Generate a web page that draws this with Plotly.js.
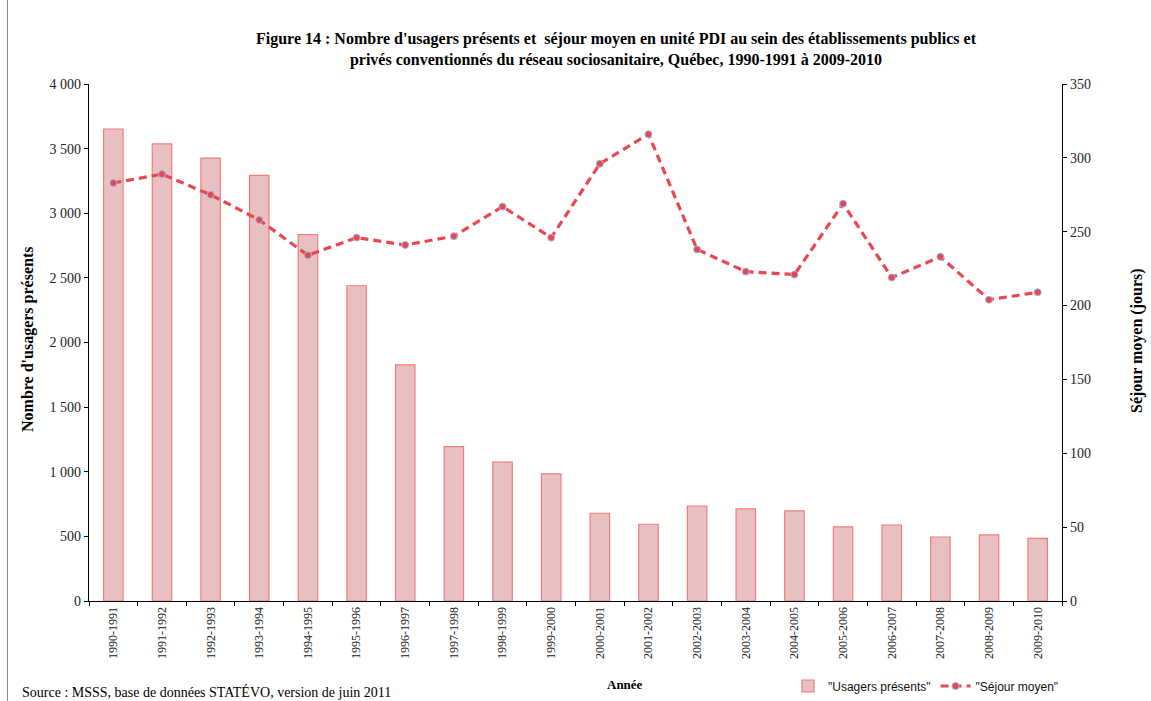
<!DOCTYPE html>
<html>
<head>
<meta charset="utf-8">
<script src="https://cdn.plot.ly/plotly-3.0.1.min.js"></script>
<style>
  html, body { margin: 0; padding: 0; background: #fff; }
  #chart { width: 1151px; height: 701px; position: relative; }
  #frame { position: absolute; left: 7px; top: 0; width: 0; height: 701px; border-left: 1px solid #8a8a8a; z-index: 5; }
</style>
</head>
<body>
<div id="chart"><div id="frame"></div></div>
<script>
const years = ["1990-1991","1991-1992","1992-1993","1993-1994","1994-1995","1995-1996","1996-1997","1997-1998","1998-1999","1999-2000","2000-2001","2001-2002","2002-2003","2003-2004","2004-2005","2005-2006","2006-2007","2007-2008","2008-2009","2009-2010"];
const usagers = [3652, 3536, 3427, 3293, 2834, 2439, 1827, 1194, 1074, 983, 679, 594, 735, 712, 697, 573, 588, 495, 511, 485];
const sejour = [283, 289, 275, 258, 234, 246, 241, 247, 267, 246, 296, 316, 238, 223, 221, 269, 219, 233, 204, 209];
const leftTicks = [0, 500, 1000, 1500, 2000, 2500, 3000, 3500, 4000];
const rightTicks = [0, 50, 100, 150, 200, 250, 300, 350];

const serif = "'Liberation Serif', 'Times New Roman', serif";
const sans = "'Liberation Sans', Arial, sans-serif";

const traces = [
  {
    type: 'bar', x: years, y: usagers, name: '"Usagers présents"',
    marker: { color: 'rgb(232,192,194)', line: { color: 'rgb(240,125,125)', width: 1.2 } },
    yaxis: 'y'
  },
  {
    type: 'scatter', mode: 'lines+markers', x: years, y: sejour, name: '"Séjour moyen"',
    line: { color: 'rgb(234,72,78)', width: 3.2, dash: '8px,5px' },
    marker: { symbol: 'circle', size: 7, color: 'rgb(234,72,78)', line: { color: 'rgb(150,185,235)', width: 1 } },
    yaxis: 'y2'
  }
];

const L = 89, R = 1062, T = 84, B = 601;
const pw = R - L, ph = B - T;
const px = v => (v - L) / pw;
const py = v => (B - v) / ph;

const layout = {
  width: 1151, height: 701,
  margin: { l: L, r: 1151 - R, t: T, b: 701 - B, pad: 0, autoexpand: false },
  paper_bgcolor: '#fff', plot_bgcolor: '#fff',
  separators: ', ',
  bargap: 0.6,
  showlegend: true,
  font: { family: serif, color: '#222' },
  title: {
    text: "Figure 14 : Nombre d'usagers présents et  séjour moyen en unité PDI au sein des établissements publics et<br>privés conventionnés du réseau sociosanitaire, Québec, 1990-1991 à 2009-2010",
    font: { family: serif, size: 16, color: '#000', weight: 'bold' },
    xref: 'container', x: 616 / 1151, xanchor: 'center',
    yref: 'container', y: 1 - 44 / 701, yanchor: 'top'
  },
  xaxis: {
    type: 'category', tickmode: 'array', tickvals: years, ticktext: years, automargin: false,
    tickangle: -90, tickfont: { family: serif, size: 12, color: '#222' },
    ticks: 'outside', ticklen: 4, tickcolor: '#000', tickson: 'boundaries',
    showline: true, linecolor: '#000', linewidth: 1.3, showgrid: false, zeroline: false,
    range: [-0.5, years.length - 0.5]
  },
  yaxis: {
    range: [0, 4000], tickmode: 'array', tickvals: leftTicks, automargin: false,
    separatethousands: true, tickformat: ',d',
    tickfont: { family: serif, size: 14, color: '#222' },
    ticks: 'outside', ticklen: 4, tickcolor: '#000',
    showline: true, linecolor: '#000', linewidth: 1.3, showgrid: false, zeroline: false
  },
  yaxis2: {
    overlaying: 'y', side: 'right', range: [0, 350], tickmode: 'array', tickvals: rightTicks, automargin: false,
    tickfont: { family: serif, size: 14, color: '#222' },
    ticks: 'outside', ticklen: 4, tickcolor: '#000',
    showline: true, linecolor: '#000', linewidth: 1.3, showgrid: false, zeroline: false
  },
  legend: {
    orientation: 'h', xref: 'paper', yref: 'paper',
    x: px(788), xanchor: 'left', y: py(686), yanchor: 'middle',
    font: { family: sans, size: 12, color: '#111' },
    tracegroupgap: 0, bgcolor: 'rgba(0,0,0,0)'
  },
  annotations: [
    { text: "Nombre d'usagers présents", textangle: -90, xref: 'paper', yref: 'paper',
      x: px(28), y: py(340), xanchor: 'center', yanchor: 'middle', showarrow: false,
      font: { family: serif, size: 16, color: '#000', weight: 'bold' } },
    { text: "Séjour moyen (jours)", textangle: -90, xref: 'paper', yref: 'paper',
      x: px(1137), y: py(341), xanchor: 'center', yanchor: 'middle', showarrow: false,
      font: { family: serif, size: 16, color: '#000', weight: 'bold' } },
    { text: "Année", xref: 'paper', yref: 'paper',
      x: px(625), y: py(684), xanchor: 'center', yanchor: 'middle', showarrow: false,
      font: { family: serif, size: 13, color: '#000', weight: 'bold' } },
    { text: "Source : MSSS, base de données STATÉVO, version de juin 2011", xref: 'paper', yref: 'paper',
      x: px(20), y: py(692), xanchor: 'left', yanchor: 'middle', showarrow: false,
      font: { family: serif, size: 14, color: '#000' } }
  ]
};

Plotly.newPlot('chart', traces, layout, { displayModeBar: false, staticPlot: true });
</script>
</body>
</html>
